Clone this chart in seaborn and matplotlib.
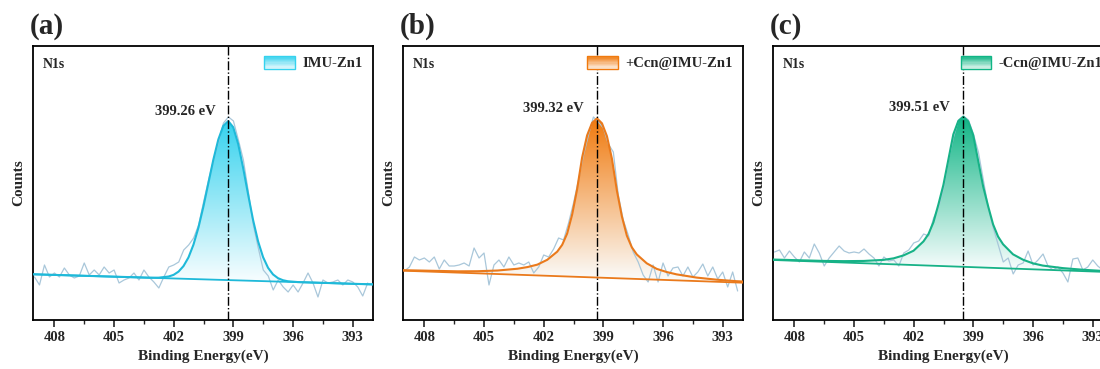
import numpy as np
import matplotlib
matplotlib.use('Agg')
import matplotlib.pyplot as plt
import seaborn as sns
from matplotlib.colors import LinearSegmentedColormap, to_rgb
from matplotlib.legend_handler import HandlerBase
from matplotlib.patches import Rectangle
from matplotlib.ticker import MultipleLocator

# Style
sns.set_style('ticks')
plt.rcParams['font.family'] = ['Liberation Serif', 'DejaVu Serif']
plt.rcParams['font.weight'] = 'bold'
plt.rcParams['axes.labelweight'] = 'bold'

# ---- data (counts in arbitrary units) ----
# raw scan: 409.0 -> 392.25 eV in 0.25 eV steps
scan_energy = np.arange(409.0, 392.2, -0.25)

raw_a = [43, 35, 55, 43, 47, 43, 52, 45, 42, 44,
         57, 45, 50, 45, 53, 47, 50, 37, 40, 42,
         47, 40, 50, 43, 38, 32, 43, 53, 55, 58,
         70, 75, 82, 95, 118, 140, 160, 178, 197, 203,
         199, 180, 160, 128, 95, 72, 50, 44, 30, 40,
         33, 28, 35, 28, 37, 47, 37, 23, 40, 37,
         38, 40, 35, 40, 38, 33, 24, 37]
raw_b = [49, 53, 63, 60, 62, 58, 63, 51, 60, 54,
         54, 55, 57, 54, 72, 62, 67, 35, 55, 60,
         53, 63, 55, 57, 55, 58, 47, 53, 65, 63,
         71, 82, 80, 97, 117, 140, 165, 185, 203, 198,
         192, 176, 168, 125, 100, 85, 68, 58, 45, 38,
         55, 38, 57, 44, 52, 53, 44, 53, 43, 48,
         56, 44, 53, 41, 48, 33, 48, 29]
raw_c = [68, 70, 62, 69, 63, 58, 68, 62, 76, 67,
         54, 62, 68, 74, 69, 67, 68, 67, 71, 66,
         62, 54, 63, 59, 60, 54, 67, 70, 77, 79,
         86, 84, 102, 113, 132, 160, 183, 200, 204, 200,
         186, 168, 140, 112, 92, 75, 58, 62, 46, 55,
         57, 69, 55, 60, 66, 54, 50, 53, 47, 38,
         61, 62, 50, 53, 60, 54, 50, 52]

# fitted N1s component (above background)
fit_e_a = [409.06, 403.26, 402.76, 402.26, 402.01, 401.76, 401.51, 401.26, 401.01, 400.76,
           400.51, 400.26, 400.01, 399.76, 399.51, 399.26, 399.01, 398.76, 398.51, 398.26,
           398.01, 397.76, 397.51, 397.26, 397.01, 396.76, 396.51, 396.26, 395.76, 392.0]
fit_a = [0, 0.05, 0.35, 1.8, 3.6, 7.0, 12.7, 21.5, 34.4, 51.6,
         72.8, 96.4, 120.0, 140.3, 154.1, 159.0, 153.0, 136.3, 112.4, 85.9,
         60.6, 39.6, 24.0, 13.5, 7.0, 3.4, 1.5, 0.6, 0.1, 0]

fit_e_b = [409.06, 406.32, 405.32, 404.32, 403.32, 402.82, 402.32, 401.82, 401.32, 401.07,
           400.82, 400.57, 400.32, 400.07, 399.82, 399.57, 399.32, 399.07, 398.82, 398.57,
           398.32, 398.07, 397.82, 397.57, 397.32, 396.82, 396.32, 395.82, 395.32, 394.32,
           393.32, 392.32, 392.0]
fit_b = [0.5, 1.3, 2.1, 3.5, 6.0, 8.0, 10.8, 16.0, 24.5, 31.5,
         43.0, 62.1, 87.6, 119.4, 141.7, 154.4, 159.2, 154.4, 141.7, 119.4,
         87.6, 62.1, 43.0, 31.5, 24.5, 16.0, 10.8, 8.0, 6.0, 3.5,
         2.1, 1.3, 1.2]

fit_e_c = [409.06, 406.51, 405.51, 404.51, 403.51, 403.01, 402.51, 402.01, 401.51, 401.26,
           401.01, 400.76, 400.51, 400.26, 400.01, 399.76, 399.51, 399.26, 399.01, 398.76,
           398.51, 398.26, 398.01, 397.76, 397.51, 397.01, 396.51, 396.01, 395.51, 394.51,
           393.51, 392.51, 392.0]
fit_c = [0.45, 0.9, 1.4, 2.3, 4.1, 6.0, 9.3, 14.3, 24.0, 31.5,
         43.5, 61.5, 81.1, 106.6, 132.1, 145.6, 150.1, 145.6, 132.1, 106.6,
         81.1, 61.5, 43.5, 31.5, 24.0, 14.3, 9.3, 6.0, 4.1, 2.3,
         1.4, 0.9, 0.8]

# linear background: value at 392.0 eV and at 409.06 eV
bg_ends_e = [392.0, 409.06]
bg_a = [35.6, 45.7]
bg_b = [37.3, 49.3]
bg_c = [47.8, 60.0]

peak_pos = [399.26, 399.32, 399.51]
samples = ['IMU-Zn1', '+Ccn@IMU-Zn1', '-Ccn@IMU-Zn1']
panel_tags = ['(a)', '(b)', '(c)']
line_colors = ['#1fb9d9', '#ea7a1c', '#17b287']
fill_colors = ['#35d2ee', '#f07a0e', '#10b585']
raw_color = '#a9c7da'

xticks = [408, 405, 402, 399, 396, 393]


class GradientPatch(HandlerBase):
    def __init__(self, color):
        super().__init__()
        self.color = np.array(to_rgb(color))

    def create_artists(self, legend, orig_handle, xdescent, ydescent,
                       width, height, fontsize, trans):
        arts = []
        n = 10
        for i in range(n):
            t = (i + 0.5) / n
            c = 1 - (1 - self.color) * (0.1 + 0.9 * t)
            arts.append(Rectangle((-xdescent, -ydescent + height * i / n), width, height / n,
                                  facecolor=c, edgecolor='none', transform=trans))
        arts.append(Rectangle((-xdescent, -ydescent), width, height, facecolor='none',
                              edgecolor=self.color, lw=1.0, transform=trans))
        return arts


def gradient_fill(ax, e, top, base, color):
    poly = ax.fill_between(e, base, top, facecolor='none', edgecolor='none')
    cmap = LinearSegmentedColormap.from_list('g', ['#fbfeff', color])
    grad = np.linspace(0, 1, 256).reshape(-1, 1)
    im = ax.imshow(grad, cmap=cmap, aspect='auto', origin='lower',
                   extent=(e.max(), e.min(), base.min(), top.max()), zorder=1)
    im.set_clip_path(poly.get_paths()[0], transform=ax.transData)


fig = plt.figure(figsize=(11, 3.69), dpi=100)
lefts = [0.0303, 0.3666, 0.7030]
raws = [raw_a, raw_b, raw_c]
fits = [(fit_e_a, fit_a), (fit_e_b, fit_b), (fit_e_c, fit_c)]
bgs = [bg_a, bg_b, bg_c]

for i in range(3):
    ax = fig.add_axes([lefts[i], 0.1328, 0.3085, 0.7434])
    fe = np.array(fits[i][0])
    bg = np.interp(fe, bg_ends_e, bgs[i])
    env = bg + np.array(fits[i][1])

    gradient_fill(ax, fe, env, bg, fill_colors[i])
    sns.lineplot(x=scan_energy, y=raws[i], ax=ax, color=raw_color, lw=0.9, zorder=2)
    sns.lineplot(x=bg_ends_e, y=bgs[i], ax=ax, color=line_colors[i], lw=1.3, zorder=3)
    sns.lineplot(x=fe, y=env, ax=ax, color=line_colors[i], lw=1.5, zorder=3)

    ax.axvline(peak_pos[i], color='black', ls='-.', lw=1.0, zorder=4)
    ax.text(peak_pos[i] + 0.65, env.max() + 3, f'{peak_pos[i]:.2f} eV',
            ha='right', va='bottom', fontsize=10.5, fontweight='bold')
    ax.text(0.027, 0.93, 'N1s', transform=ax.transAxes, ha='left', va='center',
            fontsize=10, fontweight='bold')
    ax.text(-0.01, 1.02, panel_tags[i], transform=ax.transAxes, ha='left', va='bottom',
            fontsize=21, fontweight='bold')

    handle = Rectangle((0, 0), 1, 1)
    ax.legend([handle], [samples[i]], handler_map={handle: GradientPatch(fill_colors[i])},
              loc='upper right', frameon=False, prop={'weight': 'bold', 'size': 10.5},
              handlelength=2.1, handleheight=1.0, handletextpad=0.5,
              borderaxespad=0.3, borderpad=0.4)

    ax.set_xlim(409.06, 392.0)
    ax.set_ylim(0, 274.3)
    ax.set_xticks(xticks)
    ax.xaxis.set_minor_locator(MultipleLocator(1.5))
    ax.set_yticks([])
    ax.tick_params(axis='x', which='major', direction='out', length=5, width=1.2,
                   labelsize=10.5, pad=3, bottom=True)
    ax.tick_params(axis='x', which='minor', direction='out', length=3, width=1.0, bottom=True)
    for sp in ax.spines.values():
        sp.set_linewidth(1.3)
        sp.set_color('black')
    ax.set_xlabel('Binding Energy(eV)', fontsize=11, fontweight='bold', labelpad=4)
    ax.set_ylabel('Counts', fontsize=11, fontweight='bold', labelpad=6)

fig.savefig('out.png', dpi=100)
